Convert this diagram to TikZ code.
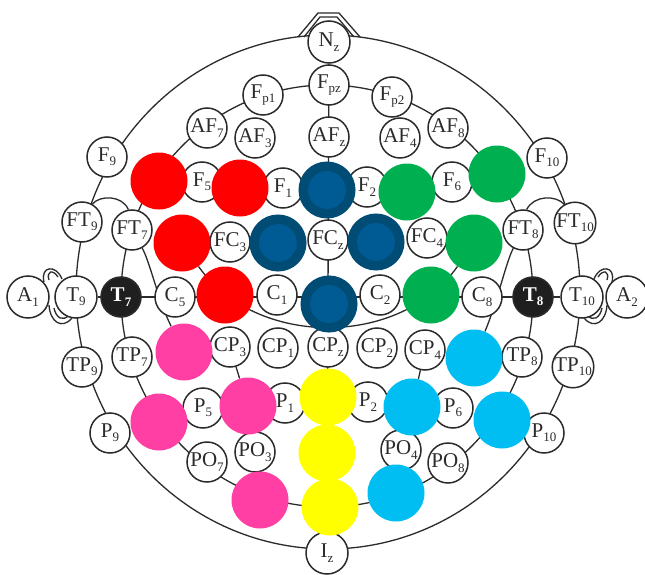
\documentclass[tikz,border=0pt]{standalone}
\usepackage{fontspec}
\setmainfont{Liberation Serif}
\definecolor{egRed}{HTML}{FF0000}
\definecolor{egGreen}{HTML}{00B050}
\definecolor{egPink}{HTML}{FF3FA4}
\definecolor{egYellow}{HTML}{FFFF00}
\definecolor{egCyan}{HTML}{00BEF2}
\definecolor{egNavy}{HTML}{004C75}
\definecolor{egBlue}{HTML}{005B94}
\definecolor{egInk}{HTML}{2B2B2B}
\usepackage{tikz}
\usetikzlibrary{calc}
\pgfdeclarelayer{bg}
\pgfsetlayers{bg,main}
\newcommand\el[2]{#1\raisebox{-0.45ex}{\fontsize{13}{13}\selectfont #2}}
\tikzset{
  elec/.style={circle, draw=egInk, line width=1.5pt, fill=white, minimum size=40pt,
    inner sep=0pt, text=egInk, font=\fontsize{21}{21}\selectfont},
  bigelec/.style={elec, minimum size=42pt},
  darkelec/.style={elec, fill=black!88, text=white, font=\fontsize{21}{21}\selectfont\bfseries},
  spot/.style={circle, minimum size=57pt, inner sep=0pt, fill=#1},
  navyspot/.style={circle, minimum size=47.5pt, inner sep=0pt, draw=egNavy,
    line width=9.5pt, fill=egBlue},
  wire/.style={draw=egInk, line width=1.3pt}
}

\begin{document}
\begin{tikzpicture}[x=1pt,y=-1pt]
  \useasboundingbox (0,0) rectangle (645,575);

  \node[bigelec] (Nz) at (329,42) {\el{N}{z}};
  \node[elec] (Fpz) at (329,85) {\el{F}{pz}};
  \node[elec] (Fp1) at (263,95) {\el{F}{p1}};
  \node[elec] (Fp2) at (392,97) {\el{F}{p2}};
  \node[elec] (AF7) at (207,128) {\el{AF}{7}};
  \node[elec] (AF3) at (255,138) {\el{AF}{3}};
  \node[elec] (AFz) at (329,137) {\el{AF}{z}};
  \node[elec] (AF4) at (400,138) {\el{AF}{4}};
  \node[elec] (AF8) at (448,128) {\el{AF}{8}};

  \node[elec] (F9) at (107,157) {\el{F}{9}};
  \node[elec] (F5) at (202,182) {\el{F}{5}};
  \node[elec] (F1) at (283,188) {\el{F}{1}};
  \node[elec] (F2) at (367,187) {\el{F}{2}};
  \node[elec] (F6) at (452,182) {\el{F}{6}};
  \node[elec] (F10) at (547,158) {\el{F}{10}};

  \node[elec] (FT9) at (82,222) {\el{FT}{9}};
  \node[elec] (FT7) at (132,230) {\el{FT}{7}};
  \node[elec] (FC3) at (230,242) {\el{FC}{3}};
  \node[elec] (FCz) at (328,240) {\el{FC}{z}};
  \node[elec] (FC4) at (427,238) {\el{FC}{4}};
  \node[elec] (FT8) at (523,230) {\el{FT}{8}};
  \node[elec] (FT10) at (575,223) {\el{FT}{10}};

  \node[bigelec] (A1) at (28,297) {\el{A}{1}};
  \node[bigelec] (T9) at (76,297) {\el{T}{9}};
  \node[darkelec] (T7) at (121,297) {\el{T}{7}};
  \node[elec] (C5) at (175,297) {\el{C}{5}};
  \node[elec] (C1) at (277,295) {\el{C}{1}};
  \node[elec] (C2) at (380,295) {\el{C}{2}};
  \node[elec] (C8) at (482,297) {\el{C}{8}};
  \node[darkelec] (T8) at (533,297) {\el{T}{8}};
  \node[bigelec] (T10) at (582,297) {\el{T}{10}};
  \node[bigelec] (A2) at (627,297) {\el{A}{2}};

  \node[elec] (TP9) at (82,367) {\el{TP}{9}};
  \node[elec] (TP7) at (132,357) {\el{TP}{7}};
  \node[elec] (CP3) at (230,347) {\el{CP}{3}};
  \node[elec] (CP1) at (278,348) {\el{CP}{1}};
  \node[elec] (CPz) at (328,347) {\el{CP}{z}};
  \node[elec] (CP2) at (377,348) {\el{CP}{2}};
  \node[elec] (CP4) at (425,350) {\el{CP}{4}};
  \node[elec] (TP8) at (522,357) {\el{TP}{8}};
  \node[elec] (TP10) at (573,367) {\el{TP}{10}};

  \node[elec] (P9) at (110,433) {\el{P}{9}};
  \node[elec] (P5) at (203,408) {\el{P}{5}};
  \node[elec] (P1) at (285,403) {\el{P}{1}};
  \node[elec] (P2) at (368,402) {\el{P}{2}};
  \node[elec] (P6) at (453,408) {\el{P}{6}};
  \node[elec] (P10) at (544,433) {\el{P}{10}};

  \node[elec] (PO7) at (207,462) {\el{PO}{7}};
  \node[elec] (PO3) at (255,452) {\el{PO}{3}};
  \node[elec] (PO4) at (401,450) {\el{PO}{4}};
  \node[elec] (PO8) at (448,463) {\el{PO}{8}};
  \node[bigelec] (Iz) at (327,553) {\el{I}{z}};

  \node[spot=egRed] (F7) at (159,181) {};
  \node[spot=egRed] (F3) at (240,188) {};
  \node[spot=egRed] (FC5) at (182,243) {};
  \node[spot=egRed] (C3) at (225,295) {};
  \node[navyspot] (Fz) at (327,190) {};
  \node[navyspot] (FC1) at (278,243) {};
  \node[navyspot] (FC2) at (376,242) {};
  \node[navyspot] (Cz) at (329,304) {};
  \node[spot=egGreen] (F4) at (407,192) {};
  \node[spot=egGreen] (F8) at (497,174) {};
  \node[spot=egGreen] (FC6) at (474,243) {};
  \node[spot=egGreen] (C4) at (431,295) {};
  \node[spot=egPink] (CP5) at (184,352) {};
  \node[spot=egPink] (P7) at (159,422) {};
  \node[spot=egPink] (P3) at (248,406) {};
  \node[spot=egPink] (O1) at (260,500) {};
  \node[spot=egYellow] (Pz) at (328,397) {};
  \node[spot=egYellow] (POz) at (327,453) {};
  \node[spot=egYellow] (Oz) at (330,507) {};
  \node[spot=egCyan] (CP6) at (474,358) {};
  \node[spot=egCyan] (P4) at (412,407) {};
  \node[spot=egCyan] (P8) at (502,420) {};
  \node[spot=egCyan] (O2) at (396,493) {};

  \begin{pgfonlayer}{bg}
    \fill[white] (0,0) rectangle (645,575);
    \draw[wire] (328,292) ellipse [x radius=252, y radius=257];
    \draw[wire] (327,296) ellipse [x radius=206, y radius=211];
    \draw[wire] (298,37) -- (318,13) -- (339,13) -- (360,37);
    \draw[wire] (304,37) -- (320,17) -- (337,17) -- (354,37);
    \draw[wire] (62,279) .. controls (56,264) and (40,266) .. (44,282);
    \draw[wire] (58,277) .. controls (53,269) and (46,271) .. (49,280);
    \draw[wire] (49,305) .. controls (50,322) and (62,330) .. (72,318);
    \draw[wire] (54,308) .. controls (56,318) and (63,322) .. (69,315);
    \draw[wire] (594,279) .. controls (600,264) and (616,266) .. (612,282);
    \draw[wire] (598,277) .. controls (603,269) and (610,271) .. (607,280);
    \draw[wire] (607,305) .. controls (606,322) and (594,330) .. (584,318);
    \draw[wire] (602,308) .. controls (600,318) and (593,322) .. (587,315);
    \draw[wire] (Nz) -- (Iz);
    \draw[wire] (T9) -- (T10);
    \draw[wire] (FT9.60) .. controls (100,195) and (122,195) .. (FT7.100);
    \draw[wire] (FT10.120) .. controls (556,195) and (534,195) .. (FT8.80);
    \draw[wire] (FT7) .. controls (150,262) and (158,300) .. (CP5);
    \draw[wire] (FT8) .. controls (506,262) and (498,300) .. (CP6);
    \draw[wire] (FC5) .. controls (256,348) and (400,348) .. (FC6);
    \draw[wire] (CP3) -- (P3);
    \draw[wire] (CP4) -- (P4);
  \end{pgfonlayer}
\end{tikzpicture}
\end{document}
